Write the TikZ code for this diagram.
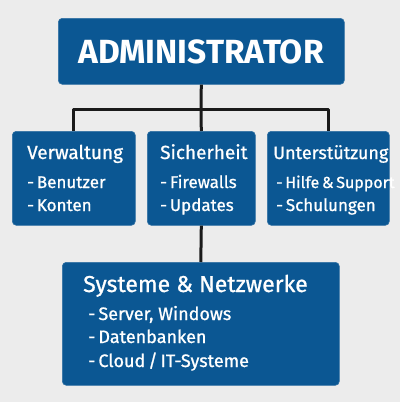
\documentclass[tikz,border=0pt]{standalone}
\usepackage{fontspec}
\setmainfont{Fira Sans}
\newfontfamily\medfont[FakeBold=0.9]{Fira Sans}
\definecolor{boxblue}{HTML}{0B5793}
\definecolor{bggray}{HTML}{ECECEC}
\definecolor{wire}{HTML}{1A1A1A}
\begin{document}
\begin{tikzpicture}[x=1pt,y=-1pt,line join=round,
  box/.style={draw=boxblue!85!white,line width=0.6pt,fill=boxblue,rounded corners=4pt,inner sep=0pt,anchor=north west},
  txt/.style={text=white,anchor=base west,inner sep=0pt},
  head/.style={txt,font=\medfont\fontsize{19}{22}\selectfont},
  item/.style={txt,font=\medfont\fontsize{17}{20}\selectfont},
  wire/.style={draw=wire,line width=3pt}]
\fill[bggray] (0,0) rectangle (400,402);
\useasboundingbox (0,0) rectangle (400,402);
% boxes
\node[box,minimum width=286pt,minimum height=66pt] (admin) at (58,18) {};
\node[box,minimum width=123pt,minimum height=94pt] (verw) at (12,131) {};
\node[box,minimum width=108pt,minimum height=94pt] (sich) at (147,131) {};
\node[box,minimum width=122pt,minimum height=94pt] (unter) at (267,131) {};
\node[box,minimum width=277pt,minimum height=123pt] (sys) at (62,262) {};
% connectors
\coordinate (bus) at (201,109);
\draw[wire] (admin.south) -- (bus);
\draw[wire] (verw.north) |- (bus) -| (unter.north);
\draw[wire] (bus) -- (sich.north);
\draw[wire] (sich.south) -- (sys.north);
% texts
\node[txt,anchor=base,font=\fontsize{33.5}{38}\selectfont\bfseries] (tadmin) at (201,63) {ADMINISTRATOR};
\node[head] (tverw) at (27,159) {Verwaltung};
\node[item] (i1) at (27,188) {-\,Benutzer};
\node[item] (i2) at (27,211) {-\,Konten};
\node[head] (tsich) at (160,159) {Sicherheit};
\node[item] (i3) at (160,188) {-\,Firewalls};
\node[item] (i4) at (160,211) {-\,Updates};
\node[head,font=\medfont\fontsize{18}{22}\selectfont] (tunter) at (273,159) {Unterstützung};
\node[item,font=\medfont\fontsize{16}{20}\selectfont] (i5) at (276,188) {-\,Hilfe\,\&\,Support};
\node[item] (i6) at (276,211) {-\,Schulungen};
\node[txt,font=\medfont\fontsize{23}{26}\selectfont] (tsys) at (83,292) {Systeme \& Netzwerke};
\node[item,font=\medfont\fontsize{18}{21}\selectfont] (s1) at (88,320) {-\,Server, Windows};
\node[item,font=\medfont\fontsize{18}{21}\selectfont] (s2) at (88,343) {-\,Datenbanken};
\node[item,font=\medfont\fontsize{18}{21}\selectfont] (s3) at (88,367) {-\,Cloud\,/\,IT-Systeme};
\end{tikzpicture}
\end{document}
